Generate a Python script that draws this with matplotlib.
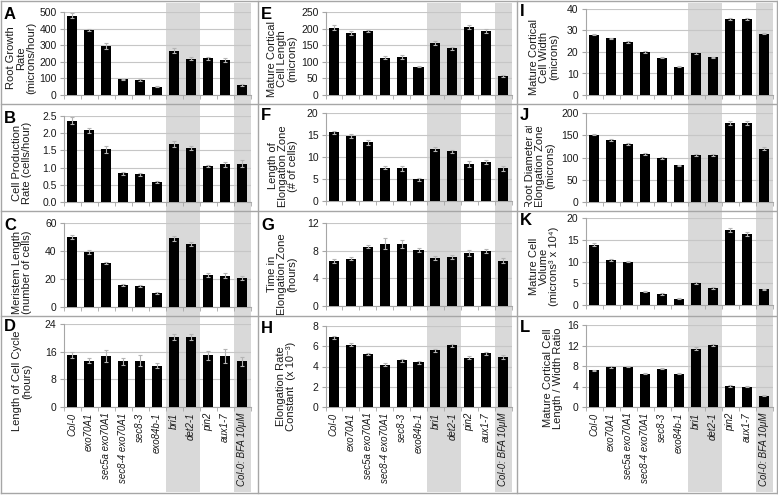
import numpy as np
import matplotlib
matplotlib.use('Agg')
from matplotlib import pyplot as plt
from matplotlib.patches import Rectangle
from matplotlib.lines import Line2D
import matplotlib.transforms as mtransforms

plt.rcParams['font.family'] = ['Liberation Sans', 'DejaVu Sans']

genotypes = ['Col-0', 'exo70A1', 'sec5a exo70A1', 'sec8-4 exo70A1', 'sec8-3', 'exo84b-1',
             'bri1', 'det2-1', 'pin2', 'aux1-7', 'Col-0: BFA 10\u03bcM']

# column 1
root_growth = [476, 390, 294, 94, 90, 50, 267, 218, 220, 210, 62]
root_growth_err = [15, 5, 18, 5, 5, 4, 15, 10, 10, 10, 5]
cell_prod = [2.36, 2.08, 1.53, 0.83, 0.80, 0.58, 1.69, 1.57, 1.05, 1.10, 1.11]
cell_prod_err = [0.10, 0.07, 0.10, 0.04, 0.04, 0.04, 0.08, 0.07, 0.04, 0.07, 0.10]
meristem = [50, 39.5, 31.5, 16, 15, 10, 49, 45, 23, 22.5, 20.5]
meristem_err = [1.5, 1.5, 1, 0.7, 1, 0.8, 2, 1.5, 1.5, 2, 1.5]
cell_cycle = [15, 13.4, 14.8, 13.2, 13.4, 11.9, 20.3, 20.3, 14.9, 14.7, 13.2]
cell_cycle_err = [0.8, 0.8, 1.8, 1, 1.6, 0.7, 0.8, 0.8, 1.2, 2, 1.2]

# column 2
cell_length = [203, 188, 193, 112, 114, 85, 157, 141, 205, 192, 57]
cell_length_err = [7, 6, 3, 4, 5, 2, 5, 4, 5, 6, 2]
ez_length = [15.6, 14.8, 13.3, 7.6, 7.4, 4.9, 11.8, 11.3, 8.4, 8.9, 7.4]
ez_length_err = [0.4, 0.4, 0.6, 0.4, 0.5, 0.3, 0.5, 0.3, 0.6, 0.5, 0.5]
ez_time = [6.5, 6.85, 8.6, 9.0, 9.0, 8.1, 7.0, 7.1, 7.7, 8.0, 6.55]
ez_time_err = [0.3, 0.2, 0.2, 0.8, 0.6, 0.3, 0.3, 0.3, 0.4, 0.3, 0.4]
elong_rate = [6.88, 6.17, 5.2, 4.17, 4.6, 4.4, 5.6, 6.1, 4.85, 5.3, 4.9]
elong_rate_err = [0.15, 0.15, 0.1, 0.15, 0.15, 0.15, 0.15, 0.15, 0.15, 0.15, 0.2]

# column 3
cell_width = [28.1, 26.3, 24.6, 20, 17.3, 13.1, 19.6, 17.5, 35.4, 35.4, 28.6]
cell_width_err = [0.3, 0.3, 0.3, 0.3, 0.3, 0.2, 0.3, 0.2, 0.5, 0.5, 0.4]
root_diam = [151.5, 139, 130.5, 108, 99, 83, 106, 105, 177, 177, 120]
root_diam_err = [2, 2, 2, 3, 3, 1, 2, 2, 4, 4, 3]
cell_volume = [13.9, 10.3, 10.0, 3.05, 2.5, 1.45, 5.1, 3.9, 17.2, 16.3, 3.6]
cell_volume_err = [0.3, 0.2, 0.2, 0.1, 0.15, 0.1, 0.2, 0.15, 0.4, 0.5, 0.15]
lw_ratio = [7.2, 7.8, 7.9, 6.5, 7.5, 6.5, 11.4, 12.1, 4.1, 3.95, 2.2]
lw_ratio_err = [0.1, 0.15, 0.1, 0.1, 0.1, 0.1, 0.3, 0.2, 0.1, 0.1, 0.1]

W, H = 778, 496
fig = plt.figure(figsize=(W / 100, H / 100), dpi=100)

# (letter, values, errors, ylabel, ymax, step, decimals, col, top px, bottom px, label x px, label y px)
panels = [
    ('A', root_growth, root_growth_err, 'Root Growth\nRate\n(microns/hour)', 500, 100, 0, 0, 12, 95, 21, 58),
    ('B', cell_prod, cell_prod_err, 'Cell Production\nRate (cells/hour)', 2.5, 0.5, 1, 0, 116, 202, 22, 163),
    ('C', meristem, meristem_err, 'Meristem Length\n(number of cells)', 60, 20, 0, 0, 223, 307, 22, 272),
    ('D', cell_cycle, cell_cycle_err, 'Length of Cell Cycle\n(hours)', 24, 8, 0, 0, 324, 407, 22, 381),
    ('E', cell_length, cell_length_err, 'Mature Cortical\nCell Length\n(microns)', 250, 50, 0, 1, 12, 95, 282, 59),
    ('F', ez_length, ez_length_err, 'Length of\nElongation Zone\n(# of cells)', 20, 5, 0, 1, 113, 201, 283, 166),
    ('G', ez_time, ez_time_err, 'Time in\nElongation Zone\n(hours)', 12, 4, 0, 1, 223, 306, 282, 274),
    ('H', elong_rate, elong_rate_err, 'Elongation Rate\nConstant  (x 10\u207b\u00b3)', 8, 2, 0, 1, 326, 407, 286, 386),
    ('I', cell_width, cell_width_err, 'Mature Cortical\nCell Width\n(microns)', 40, 10, 0, 2, 9, 95, 544, 57),
    ('J', root_diam, root_diam_err, 'Root Diameter at\nElongation Zone\n(microns)', 200, 50, 0, 2, 113, 202, 540, 166),
    ('K', cell_volume, cell_volume_err, 'Mature Cell\nVolume\n(microns\u00b3 x 10\u2074)', 20, 5, 0, 2, 218, 305, 544, 266),
    ('L', lw_ratio, lw_ratio_err, 'Mature Cortical Cell\nLength / Width Ratio', 16, 4, 0, 2, 325, 407, 553, 378),
]

col_x = [(63.5, 250.5), (325.5, 511.5), (585.5, 772.5)]
letter_x = [4, 261, 520]
edge = '#a6a6a6'
txt = '#1a1a1a'
x = np.arange(len(genotypes))

bottom_axes = {}
for letter, vals, errs, ylab, ymax, step, dec, col, top, bot, labx, laby in panels:
    l, r = col_x[col]
    ax = fig.add_axes([l / W, 1 - bot / H, (r - l) / W, (bot - top) / H])
    ax.set_facecolor('none')
    ax.bar(x, vals, width=0.6, color='black', zorder=3)
    ax.errorbar(x, vals, yerr=errs, fmt='none', ecolor='#b4b4b4', elinewidth=0.8,
                capsize=1.5, capthick=0.8, zorder=4)
    ax.set_xlim(-0.5, len(genotypes) - 0.5)
    ax.set_ylim(0, ymax)
    ticks = np.arange(0, ymax + step / 2, step)
    ax.set_yticks(ticks)
    ax.set_yticklabels([f'{t:.{dec}f}' for t in ticks])
    ax.yaxis.grid(True, color='#c6c6c6', lw=0.8, zorder=0)
    for s in ['top', 'right']:
        ax.spines[s].set_visible(False)
    for s in ['left', 'bottom']:
        ax.spines[s].set_color(edge)
        ax.spines[s].set_linewidth(0.8)
    ax.tick_params(axis='y', length=3, color=edge, labelsize=7.5, pad=2, labelcolor=txt)
    ax.set_xticks(x)
    ax.set_xticks(np.arange(-0.5, len(genotypes), 1), minor=True)
    ax.tick_params(axis='x', which='major', length=0, pad=4)
    ax.tick_params(axis='x', which='minor', length=3, color=edge)
    if letter in 'DHL':
        ax.set_xticklabels(genotypes, rotation=90, fontsize=7, style='italic',
                           ha='center', va='top', color=txt)
        bottom_axes[col] = ax
    else:
        ax.set_xticklabels([])
    t = fig.text(labx / W, 1 - laby / H, ylab, rotation=90, ha='center', va='center',
                 fontsize=8, linespacing=1.05, multialignment='center', color=txt)
    if letter == 'J':
        # the label is cut off at its top in the original
        clip = mtransforms.TransformedBbox(
            mtransforms.Bbox([[0, 1 - 207 / H], [1, 1 - 126 / H]]), fig.transFigure)
        t.set_clip_box(clip)
        t.set_clip_on(True)
    fig.text(letter_x[col] / W, 1 - (top - 5) / H, letter, fontsize=12, fontweight='bold',
             ha='left', va='top')

# grey bands behind bri1/det2-1 and BFA, spanning the whole column
for col, ax in bottom_axes.items():
    tr = mtransforms.blended_transform_factory(ax.transData, fig.transFigure)
    for x0, x1 in [(5.5, 7.5), (9.5, 10.5)]:
        fig.add_artist(Rectangle((x0, 1 - 492 / H), x1 - x0, (492 - 3) / H, transform=tr,
                                 facecolor='#d9d9d9', edgecolor='none', zorder=-1))

# panel borders
def hline(y, x0, x1):
    fig.add_artist(Line2D([x0 / W, x1 / W], [1 - y / H, 1 - y / H], color=edge, lw=1, zorder=5))

def vline(xp, y0, y1):
    fig.add_artist(Line2D([xp / W, xp / W], [1 - y0 / H, 1 - y1 / H], color=edge, lw=1, zorder=5))

for y in [104, 211, 316]:
    hline(y, 1, 777)
for xp in [1, 258, 517, 777]:
    vline(xp, 1, 493)
hline(1, 1, 777)
hline(493, 1, 777)

fig.savefig('out.png', dpi=100)
